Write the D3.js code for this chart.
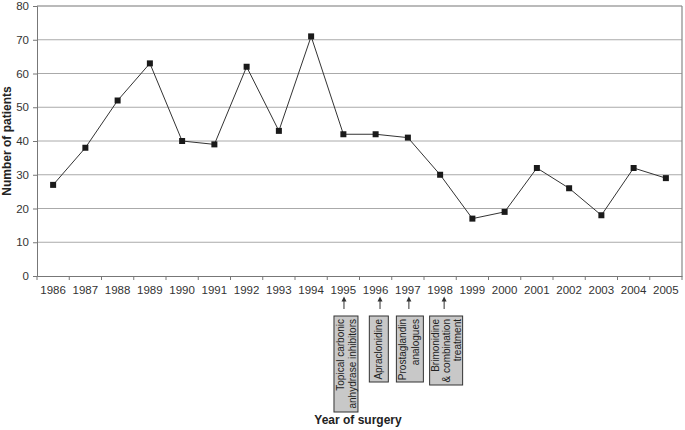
<!DOCTYPE html>
<html><head><meta charset="utf-8">
<script src="https://cdn.jsdelivr.net/npm/d3@7"></script>
<style>
body{margin:0;background:#fff;}
text{font-family:"Liberation Sans",Arial,sans-serif;}
</style></head>
<body><svg id="c" width="685" height="430"></svg>
<script>
const years = ["1986","1987","1988","1989","1990","1991","1992","1993","1994","1995","1996","1997","1998","1999","2000","2001","2002","2003","2004","2005"];
const patients = [27,38,52,63,40,39,62,43,71,42,42,41,30,17,19,32,26,18,32,29];
const yTicks = [0,10,20,30,40,50,60,70,80];
const annoYears = ["1995","1996","1997","1998"];
const annoLines = [["Topical carbonic","anhydrase inhibitors"],["Apraclonidine"],["Prostaglandin","analogues"],["Brimonidine","& combination","treatment"]];

const svg = d3.select("#c");
const L=37, R=682, T=6, B=276;
const x = d3.scaleBand().domain(years).range([L,R]).padding(0);
const y = d3.scaleLinear().domain([0,80]).range([B,T]);

// gridlines
svg.append("g").selectAll("line").data(yTicks.filter(d=>d>0&&d<80)).join("line")
  .attr("x1",L).attr("x2",R).attr("y1",d=>y(d)).attr("y2",d=>y(d))
  .attr("stroke","#aaa").attr("stroke-width",1);
// border top/right
svg.append("line").attr("x1",L).attr("x2",R).attr("y1",y(80)).attr("y2",y(80)).attr("stroke","#777").attr("stroke-width",1.2);
svg.append("line").attr("x1",R).attr("x2",R).attr("y1",T).attr("y2",B).attr("stroke","#888").attr("stroke-width",1.2);

// y axis
const yAxis = d3.axisLeft(y).tickValues(yTicks).tickSize(4).tickPadding(4);
const gy = svg.append("g").attr("transform",`translate(${L},0)`).call(yAxis);
gy.select(".domain").attr("stroke","#777");
gy.selectAll(".tick line").attr("stroke","#777");
gy.selectAll("text").attr("font-size",11.5).attr("fill","#333").attr("font-family","Liberation Sans,Arial,sans-serif");

// x axis
const xAxis = d3.axisBottom(x).tickSize(0).tickPadding(10);
const gx = svg.append("g").attr("transform",`translate(0,${B})`).call(xAxis);
gx.select(".domain").attr("stroke","#777");
gx.selectAll("text").attr("font-size",11.5).attr("fill","#333").attr("font-family","Liberation Sans,Arial,sans-serif");
// category boundary ticks
const edges = years.map(d=>x(d)).concat([x(years[years.length-1])+x.bandwidth()]);
svg.append("g").selectAll("line").data(edges).join("line")
  .attr("x1",d=>d).attr("x2",d=>d).attr("y1",B).attr("y2",B+4).attr("stroke","#777");

// line
const cx = d=>x(d)+x.bandwidth()/2;
const line = d3.line().x((d,i)=>cx(years[i])).y(d=>y(d));
svg.append("path").datum(patients).attr("d",line).attr("fill","none").attr("stroke","#333").attr("stroke-width",1);
svg.append("g").selectAll("rect").data(patients).join("rect")
  .attr("x",(d,i)=>cx(years[i])-3).attr("y",d=>y(d)-3).attr("width",6).attr("height",6).attr("fill","#1a1a1a");

// axis titles
svg.append("text").attr("transform",`translate(11,${(T+B)/2}) rotate(-90)`).attr("text-anchor","middle")
  .attr("font-size",12).attr("font-weight","bold").attr("fill","#222").text("Number of patients");
svg.append("text").attr("x",358).attr("y",424).attr("text-anchor","middle")
  .attr("font-size",12).attr("font-weight","bold").attr("fill","#222").text("Year of surgery");

// annotations (layout per box)
const arrowOff = [0.6,4.4,1,4];
const boxOff = [2.6,3.2,2,6];
const boxW = [24,19,27,33];
const boxB = [412,382,382,385];
const lineBase = [[10.5,22],[13],[10,22.5],[9.5,20.5,31.5]];
const ann = svg.append("g");
annoYears.forEach((yr,i)=>{
  const c = cx(yr);
  const ax = c + arrowOff[i];
  ann.append("line").attr("x1",ax).attr("x2",ax).attr("y1",309).attr("y2",300).attr("stroke","#333").attr("stroke-width",1);
  ann.append("path").attr("d",`M${ax-2.5},${301.5}L${ax},${296.5}L${ax+2.5},${301.5}Z`).attr("fill","#333");
  const bx = c + boxOff[i] - boxW[i]/2;
  ann.append("rect").attr("x",bx).attr("y",316).attr("width",boxW[i]).attr("height",boxB[i]-316)
    .attr("fill","#c8c8c8").attr("stroke","#333").attr("stroke-width",1);
  annoLines[i].forEach((t,j)=>{
    const tx = bx + lineBase[i][j];
    ann.append("text").attr("transform",`translate(${tx},319) rotate(-90)`).attr("text-anchor","end")
      .attr("font-size",10).attr("fill","#222").text(t);
  });
});
</script></body></html>
